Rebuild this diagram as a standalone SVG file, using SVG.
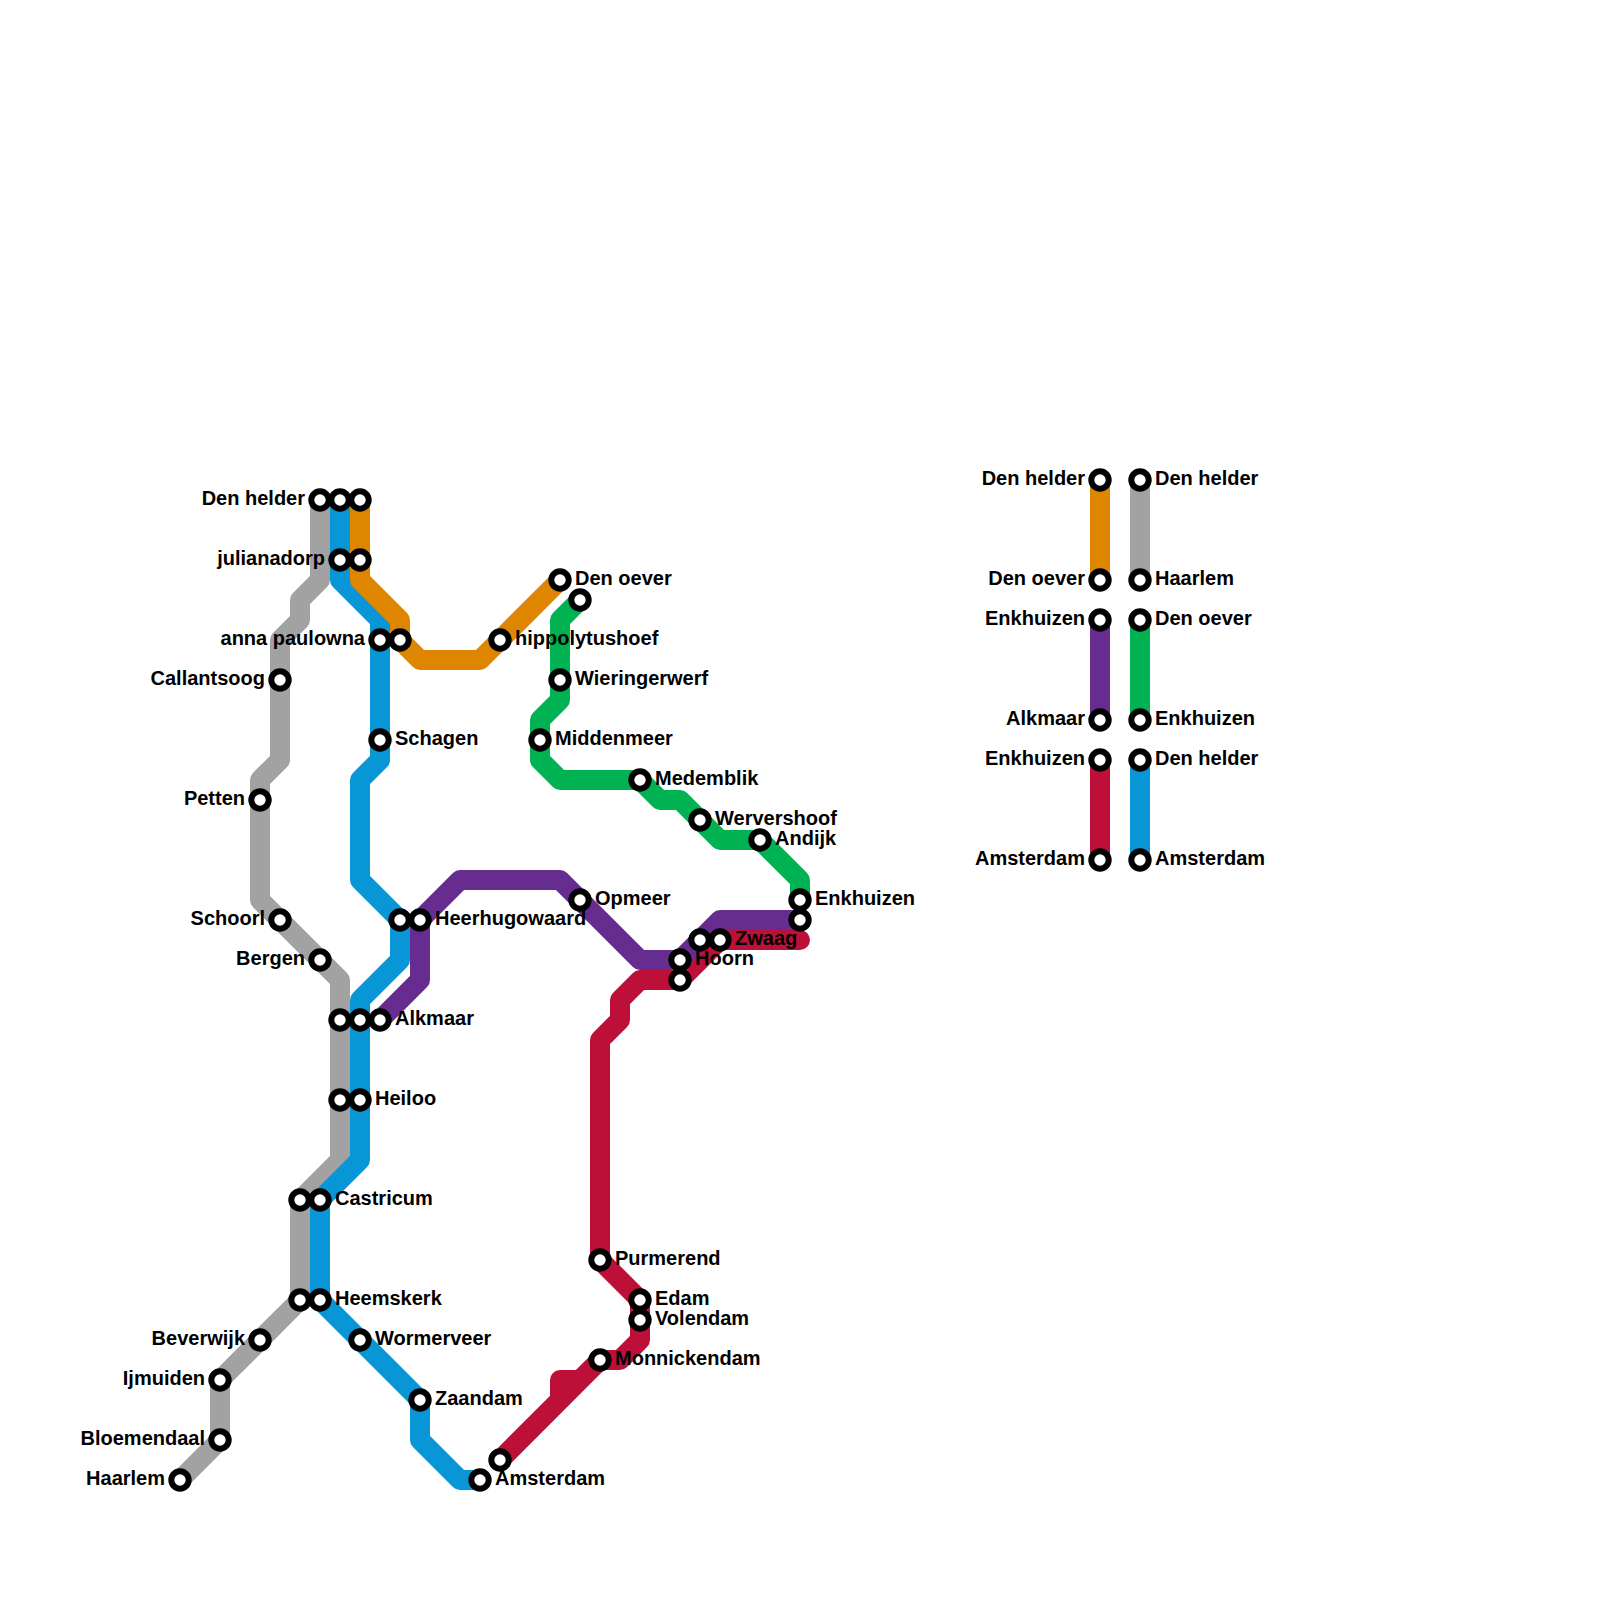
<svg xmlns="http://www.w3.org/2000/svg" width="1600" height="1600" viewBox="0 0 1600 1600">
<style>
.l{fill:none;stroke-width:20;stroke-linejoin:round;stroke-linecap:round}
.s{fill:#fff;stroke:#000;stroke-width:6}
text{font-family:"Liberation Sans",Arial,sans-serif;font-weight:bold;font-size:20px;fill:#000}
.e{text-anchor:end}
</style>
<rect width="1600" height="1600" fill="#fff"/>
<g id="connectors">
<path class="l" stroke="#a2a2a2" d="M320 500V580L300 600V620L280 640V760L260 780V900L340 980V1160L300 1200V1300L220 1380V1440L180 1480"/>
<path class="l" stroke="#0896d7" d="M340 500V580L380 620V760L360 780V880L400 920V960L360 1000V1160L320 1200V1300L420 1400V1440L460 1480H480"/>
<path class="l" stroke="#df8600" d="M360 500V580L400 620V640L420 660H480L500 640L560 580"/>
<path class="l" stroke="#00b251" d="M580 600L560 620V700L540 720V760L560 780H640L660 800H680L720 840H760L800 880V900"/>
<path class="l" stroke="#bd1038" d="M800 940H720L680 980H640L620 1000V1020L600 1040V1260L640 1300V1340L620 1360H600L500 1460M580 1380H560V1400"/>
<path class="l" stroke="#662c90" d="M380 1020L420 980V920L460 880H560L640 960H680L720 920H800"/>
<path class="l" stroke="#df8600" d="M1100 480V580"/>
<path class="l" stroke="#a2a2a2" d="M1140 480V580"/>
<path class="l" stroke="#662c90" d="M1100 620V720"/>
<path class="l" stroke="#00b251" d="M1140 620V720"/>
<path class="l" stroke="#bd1038" d="M1100 760V860"/>
<path class="l" stroke="#0896d7" d="M1140 760V860"/>
</g>
<g id="n1"><circle class="s" cx="320" cy="500" r="8.7"/><text class="e" x="305" y="505">Den helder</text></g>
<g id="n2"><circle class="s" cx="340" cy="500" r="8.7"/></g>
<g id="n3"><circle class="s" cx="360" cy="500" r="8.7"/></g>
<g id="n4"><circle class="s" cx="340" cy="560" r="8.7"/><text class="e" x="325" y="565">julianadorp</text></g>
<g id="n5"><circle class="s" cx="360" cy="560" r="8.7"/></g>
<g id="n6"><circle class="s" cx="380" cy="640" r="8.7"/><text class="e" x="365" y="645">anna paulowna</text></g>
<g id="n7"><circle class="s" cx="400" cy="640" r="8.7"/></g>
<g id="n8"><circle class="s" cx="500" cy="640" r="8.7"/><text x="515" y="645">hippolytushoef</text></g>
<g id="n9"><circle class="s" cx="560" cy="580" r="8.7"/><text x="575" y="585">Den oever</text></g>
<g id="n10"><circle class="s" cx="580" cy="600" r="8.7"/></g>
<g id="n11"><circle class="s" cx="560" cy="680" r="8.7"/><text x="575" y="685">Wieringerwerf</text></g>
<g id="n12"><circle class="s" cx="540" cy="740" r="8.7"/><text x="555" y="745">Middenmeer</text></g>
<g id="n13"><circle class="s" cx="380" cy="740" r="8.7"/><text x="395" y="745">Schagen</text></g>
<g id="n14"><circle class="s" cx="280" cy="680" r="8.7"/><text class="e" x="265" y="685">Callantsoog</text></g>
<g id="n15"><circle class="s" cx="260" cy="800" r="8.7"/><text class="e" x="245" y="805">Petten</text></g>
<g id="n16"><circle class="s" cx="280" cy="920" r="8.7"/><text class="e" x="265" y="925">Schoorl</text></g>
<g id="n17"><circle class="s" cx="320" cy="960" r="8.7"/><text class="e" x="305" y="965">Bergen</text></g>
<g id="n18"><circle class="s" cx="400" cy="920" r="8.7"/></g>
<g id="n19"><circle class="s" cx="420" cy="920" r="8.7"/><text x="435" y="925">Heerhugowaard</text></g>
<g id="n20"><circle class="s" cx="340" cy="1020" r="8.7"/></g>
<g id="n21"><circle class="s" cx="360" cy="1020" r="8.7"/></g>
<g id="n22"><circle class="s" cx="380" cy="1020" r="8.7"/><text x="395" y="1025">Alkmaar</text></g>
<g id="n23"><circle class="s" cx="340" cy="1100" r="8.7"/></g>
<g id="n24"><circle class="s" cx="360" cy="1100" r="8.7"/><text x="375" y="1105">Heiloo</text></g>
<g id="n25"><circle class="s" cx="300" cy="1200" r="8.7"/></g>
<g id="n26"><circle class="s" cx="320" cy="1200" r="8.7"/><text x="335" y="1205">Castricum</text></g>
<g id="n27"><circle class="s" cx="300" cy="1300" r="8.7"/></g>
<g id="n28"><circle class="s" cx="320" cy="1300" r="8.7"/><text x="335" y="1305">Heemskerk</text></g>
<g id="n29"><circle class="s" cx="260" cy="1340" r="8.7"/><text class="e" x="245" y="1345">Beverwijk</text></g>
<g id="n30"><circle class="s" cx="360" cy="1340" r="8.7"/><text x="375" y="1345">Wormerveer</text></g>
<g id="n31"><circle class="s" cx="220" cy="1380" r="8.7"/><text class="e" x="205" y="1385">Ijmuiden</text></g>
<g id="n32"><circle class="s" cx="420" cy="1400" r="8.7"/><text x="435" y="1405">Zaandam</text></g>
<g id="n33"><circle class="s" cx="220" cy="1440" r="8.7"/><text class="e" x="205" y="1445">Bloemendaal</text></g>
<g id="n34"><circle class="s" cx="180" cy="1480" r="8.7"/><text class="e" x="165" y="1485">Haarlem</text></g>
<g id="n35"><circle class="s" cx="480" cy="1480" r="8.7"/><text x="495" y="1485">Amsterdam</text></g>
<g id="n36"><circle class="s" cx="500" cy="1460" r="8.7"/></g>
<g id="n37"><circle class="s" cx="600" cy="1360" r="8.7"/><text x="615" y="1365">Monnickendam</text></g>
<g id="n38"><circle class="s" cx="640" cy="1300" r="8.7"/><text x="655" y="1305">Edam</text></g>
<g id="n39"><circle class="s" cx="640" cy="1320" r="8.7"/><text x="655" y="1325">Volendam</text></g>
<g id="n40"><circle class="s" cx="600" cy="1260" r="8.7"/><text x="615" y="1265">Purmerend</text></g>
<g id="n41"><circle class="s" cx="580" cy="900" r="8.7"/><text x="595" y="905">Opmeer</text></g>
<g id="n42"><circle class="s" cx="680" cy="980" r="8.7"/></g>
<g id="n43"><circle class="s" cx="680" cy="960" r="8.7"/><text x="695" y="965">Hoorn</text></g>
<g id="n44"><circle class="s" cx="700" cy="940" r="8.7"/></g>
<g id="n45"><circle class="s" cx="720" cy="940" r="8.7"/><text x="735" y="945">Zwaag</text></g>
<g id="n46"><circle class="s" cx="800" cy="920" r="8.7"/></g>
<g id="n47"><circle class="s" cx="800" cy="900" r="8.7"/><text x="815" y="905">Enkhuizen</text></g>
<g id="n48"><circle class="s" cx="640" cy="780" r="8.7"/><text x="655" y="785">Medemblik</text></g>
<g id="n49"><circle class="s" cx="700" cy="820" r="8.7"/><text x="715" y="825">Wervershoof</text></g>
<g id="n50"><circle class="s" cx="760" cy="840" r="8.7"/><text x="775" y="845">Andijk</text></g>
<g id="k1"><circle class="s" cx="1100" cy="480" r="8.7"/><text class="e" x="1085" y="485">Den helder</text></g>
<g id="k2"><circle class="s" cx="1100" cy="580" r="8.7"/><text class="e" x="1085" y="585">Den oever</text></g>
<g id="k3"><circle class="s" cx="1140" cy="480" r="8.7"/><text x="1155" y="485">Den helder</text></g>
<g id="k4"><circle class="s" cx="1140" cy="580" r="8.7"/><text x="1155" y="585">Haarlem</text></g>
<g id="k5"><circle class="s" cx="1100" cy="620" r="8.7"/><text class="e" x="1085" y="625">Enkhuizen</text></g>
<g id="k6"><circle class="s" cx="1100" cy="720" r="8.7"/><text class="e" x="1085" y="725">Alkmaar</text></g>
<g id="k7"><circle class="s" cx="1140" cy="620" r="8.7"/><text x="1155" y="625">Den oever</text></g>
<g id="k8"><circle class="s" cx="1140" cy="720" r="8.7"/><text x="1155" y="725">Enkhuizen</text></g>
<g id="k9"><circle class="s" cx="1100" cy="760" r="8.7"/><text class="e" x="1085" y="765">Enkhuizen</text></g>
<g id="k10"><circle class="s" cx="1100" cy="860" r="8.7"/><text class="e" x="1085" y="865">Amsterdam</text></g>
<g id="k11"><circle class="s" cx="1140" cy="760" r="8.7"/><text x="1155" y="765">Den helder</text></g>
<g id="k12"><circle class="s" cx="1140" cy="860" r="8.7"/><text x="1155" y="865">Amsterdam</text></g>
</svg>
